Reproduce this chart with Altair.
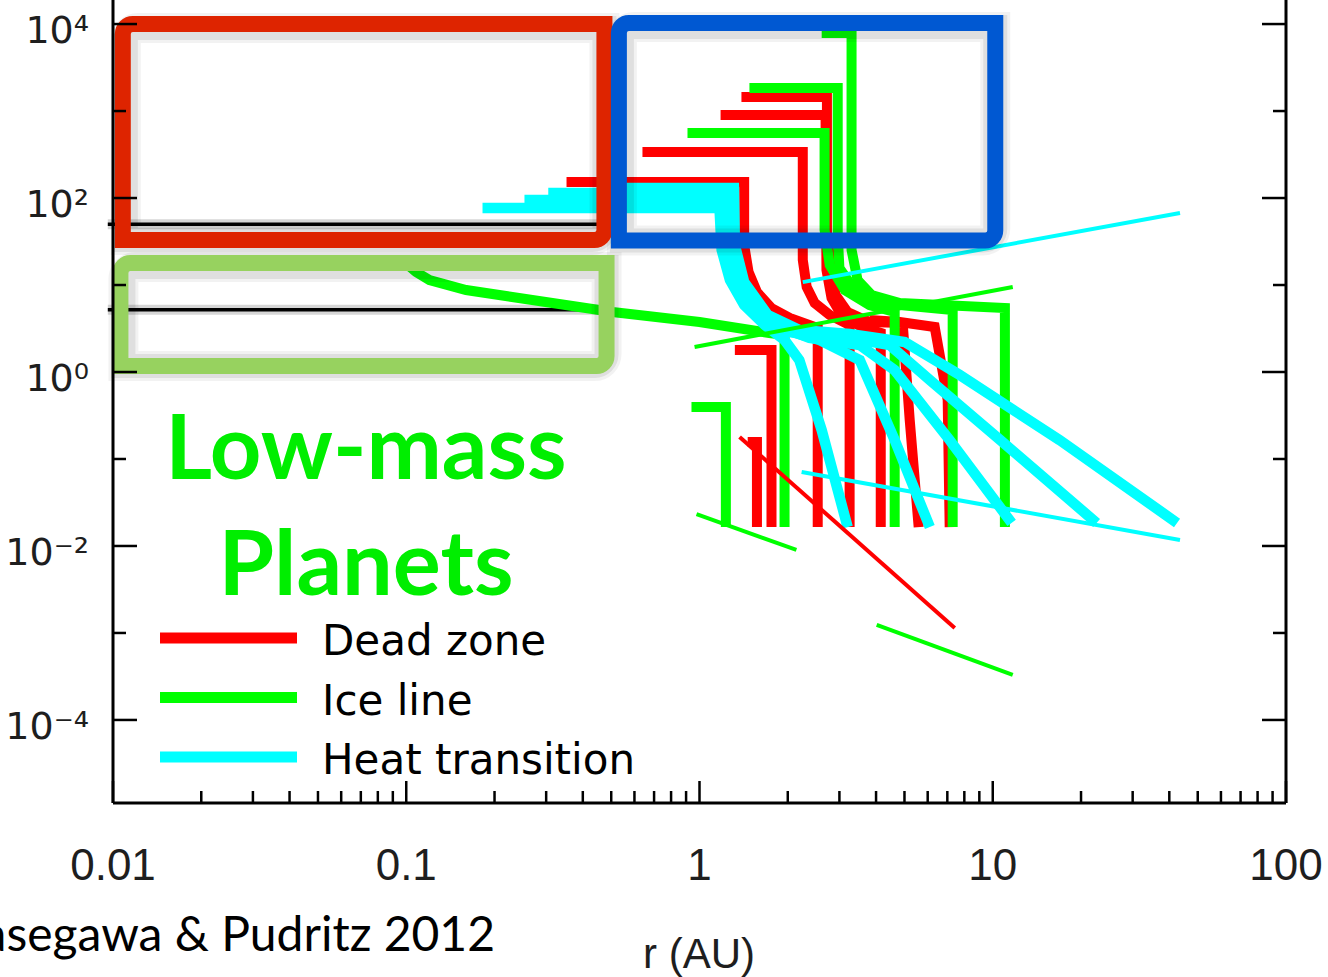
import altair as alt
import pandas as pd

# plot-area size in pixels (frame is drawn by hand below)
W, H = 1173, 803

# ---------------------------------------------------------------- axes ----
R_DOMAIN = [0.01, 100.0]          # orbital radius r [AU]
M_DOMAIN = [1.11e-5, 1.89e4]      # planet mass [M_earth]

x_tick_values = [0.01, 0.1, 1, 10, 100]
x_tick_labels = ["0.01", "0.1", "1", "10", "100"]
x_minor_values = [m * 10.0 ** k for k in range(-2, 2) for m in range(2, 10)]
y_major_values = [1e-4, 1e-2, 1.0, 1e2, 1e4]
y_major_labels = ["10⁻⁴", "10⁻²", "10⁰", "10²", "10⁴"]
y_minor_values = [1e-3, 1e-1, 10.0, 1e3]

# ------------------------------------------------- planet tracks (r, M) ----
dead_zone_tracks = [
    ([1.57, 1.57, 1.46], [0.0165, 0.157, 0.157]),
    ([1.76, 1.76, 1.32], [0.0165, 1.79, 1.79]),
    ([2.53, 2.53, 2.03, 1.76, 1.57, 1.47, 1.42, 1.42, 0.352],
     [0.0165, 3.21, 4.18, 5.44, 8.31, 14.1, 28.8, 153, 153]),
    ([3.25, 3.25, 2.78, 2.47, 2.32, 2.25, 2.25, 0.639],
     [0.0165, 3.47, 4.52, 6.21, 9.48, 19.4, 338, 338]),
    ([4.15, 4.15, 3.52, 3.05, 2.82, 2.71, 2.69, 1.18],
     [0.0165, 2.81, 3.38, 4.52, 7.09, 14.9, 900, 900]),
    ([5.59, 5.21, 4.93, 3.80, 3.20, 2.91, 2.80, 2.72, 2.72, 1.39],
     [0.0165, 0.281, 3.66, 3.76, 4.89, 7.68, 17.0, 40.0, 1450, 1450]),
    ([7.13, 7.02, 6.34, 4.82, 3.80], [0.0165, 0.477, 3.29, 3.76, 3.96]),
]

ice_line_tracks = [
    ([1.23, 1.23, 0.939], [0.0165, 0.396, 0.396]),
    ([1.95, 1.95, 1.73, 1.00, 0.505, 0.269, 0.160, 0.120, 0.108, 0.0985],
     [0.0165, 2.66, 2.81, 3.76, 4.89, 6.72, 8.76, 11.4, 14.1, 18.4]),
    ([4.63, 4.63, 3.80, 3.13, 2.78, 2.67, 2.67, 0.910],
     [0.0165, 4.89, 5.89, 8.76, 17.0, 42.9, 559, 559]),
    ([7.30, 7.30, 4.12, 3.38, 3.00, 2.96, 2.96, 1.48],
     [0.0165, 5.16, 6.21, 8.76, 15.7, 37.6, 1840, 1840]),
    ([11.0, 11.0, 4.82, 3.86, 3.46, 3.30, 3.30, 2.61],
     [0.0165, 5.44, 6.21, 7.68, 11.4, 25.3, 7880, 7880]),
]

heat_transition_tracks = [
    ([3.20, 2.61, 2.19, 1.95, 1.67, 1.42, 1.27, 1.19, 1.17, 0.182],
     [0.0165, 0.215, 1.37, 2.33, 3.47, 5.89, 11.4, 25.3, 76.7, 76.7]),
    ([6.10, 4.63, 3.52, 2.57, 1.95, 1.60, 1.35, 1.24, 1.21, 1.21, 0.253],
     [0.0165, 0.165, 1.37, 2.33, 3.04, 4.52, 8.76, 19.4, 49.0, 94.8, 94.8]),
    ([11.6, 7.13, 4.63, 3.52, 2.37, 1.85, 1.54, 1.32, 1.26, 1.26, 0.305],
     [0.0184, 0.165, 1.05, 2.04, 2.46, 3.38, 5.89, 14.1, 37.6, 114, 114]),
    ([22.6, 10.6, 6.10, 4.45, 3.00, 2.03, 1.63, 1.37, 1.29, 1.29, 0.456],
     [0.0184, 0.165, 0.809, 2.04, 2.59, 2.88, 4.89, 12.0, 32.9, 87.6, 87.6]),
    ([42.5, 16.9, 7.72, 5.01, 3.25, 2.19, 1.71, 1.42, 1.32, 1.31, 0.456],
     [0.0184, 0.165, 0.924, 2.21, 2.73, 3.04, 4.52, 10.8, 28.8, 130, 130]),
]

# trap trajectories (thin lines)
trap_families = ["dead", "ice", "ice", "ice", "heat", "heat"]
trap_r = [[1.37, 7.42], [0.962, 11.7], [0.977, 2.14], [4.02, 11.7], [2.25, 43.5], [2.23, 43.5]]
trap_m = [[0.179, 0.00114], [1.94, 9.48], [0.0233, 0.0090], [0.00124, 0.000329],
          [10.8, 67.3], [0.0709, 0.0117]]

# horizontal reference masses across the inner disc
ref_mass = [50.0, 5.2]
ref_r = [0.0096, 0.456]

# highlighted regions: r range, M range, colour
box_r_min = [0.0108, 0.531, 0.0106]
box_r_max = [0.474, 10.2, 0.482]
box_m_min = [32.9, 32.5, 1.17]
box_m_max = [10000, 10270, 17.9]
box_colors = ["#de2400", "#0058d2", "#97d25f"]

legend_labels = ["Dead zone", "Ice line", "Heat transition"]
family_colors = {"dead": "#ff0000", "ice": "#00ff00", "heat": "#00ffff"}
legend_colors = [family_colors["dead"], family_colors["ice"], family_colors["heat"]]

TICK_FONT = "Liberation Sans"

# ------------------------------------------------------------- helpers ----
xs = alt.Scale(type="log", domain=R_DOMAIN, nice=False)
ys = alt.Scale(type="log", domain=M_DOMAIN, nice=False)


def X(field="r"):
    return alt.X(f"{field}:Q", scale=xs, axis=None)


def Y(field="m"):
    return alt.Y(f"{field}:Q", scale=ys, axis=None)


def tracks_frame(tracks, family):
    rows = []
    for k, (rs, ms) in enumerate(tracks):
        for i, (r, m) in enumerate(zip(rs, ms)):
            rows.append({"track": f"{family}{k}", "i": i, "r": r, "m": m})
    return pd.DataFrame(rows)


def track_layer(tracks, family, width):
    return alt.Chart(tracks_frame(tracks, family)).mark_line(
        color=family_colors[family], strokeWidth=width,
        strokeJoin="miter", strokeCap="butt"
    ).encode(x=X(), y=Y(), detail="track:N", order="i:Q")


ONE = alt.Data(values=[{"k": 1}])


def pixel_rule(**enc):
    style = enc.pop("style", {})
    return alt.Chart(ONE).mark_rule(**style).encode(**enc)


def pixel_text(text, x, y, **style):
    return alt.Chart(alt.Data(values=[{"t": text}])).mark_text(**style).encode(
        text="t:N", x=alt.value(x), y=alt.value(y))


layers = []

# reference mass lines (with a soft shadow)
ref_df = pd.DataFrame({"r": [ref_r[0]] * 2, "r2": [ref_r[1]] * 2, "m": ref_mass})
layers.append(alt.Chart(ref_df).mark_rule(color="#000000", strokeWidth=10, opacity=0.16)
              .encode(x=X(), x2="r2:Q", y=Y()))
layers.append(alt.Chart(ref_df).mark_rule(color="#000000", strokeWidth=3.5)
              .encode(x=X(), x2="r2:Q", y=Y()))

# planet tracks
layers.append(track_layer(dead_zone_tracks, "dead", 10))
layers.append(track_layer(ice_line_tracks, "ice", 10))
layers.append(track_layer(heat_transition_tracks, "heat", 10.5))

thin_rows = []
for k, (fam, rs, ms) in enumerate(zip(trap_families, trap_r, trap_m)):
    for i, (r, m) in enumerate(zip(rs, ms)):
        thin_rows.append({"seg": k, "i": i, "r": r, "m": m, "c": family_colors[fam]})
layers.append(alt.Chart(pd.DataFrame(thin_rows)).mark_line(strokeWidth=4, strokeCap="butt")
              .encode(x=X(), y=Y(), detail="seg:N", order="i:Q",
                      color=alt.Color("c:N", scale=None)))

# highlighted regions with a soft drop shadow
box_df = pd.DataFrame({"r0": box_r_min, "r1": box_r_max, "m0": box_m_min,
                       "m1": box_m_max, "c": box_colors})
for sw, op in [(30, 0.05), (24, 0.08)]:
    layers.append(alt.Chart(box_df).mark_rect(
        fillOpacity=0, stroke="#000000", strokeOpacity=op, strokeWidth=sw,
        xOffset=3, yOffset=4, cornerRadiusTopLeft=12, cornerRadiusBottomRight=12
    ).encode(x=X("r0"), x2="r1:Q", y=Y("m1"), y2="m0:Q"))
layers.append(alt.Chart(box_df).mark_rect(
    fillOpacity=0, strokeWidth=16, cornerRadiusTopLeft=10, cornerRadiusBottomRight=10
).encode(x=X("r0"), x2="r1:Q", y=Y("m1"), y2="m0:Q",
         stroke=alt.Stroke("c:N", scale=None)))

# frame
axis_style = {"color": "#000000", "strokeWidth": 3}
layers.append(pixel_rule(x=alt.value(0), x2=alt.value(W), y=alt.value(H), style=axis_style))
layers.append(pixel_rule(x=alt.value(0), y=alt.value(0), y2=alt.value(H), style=axis_style))
layers.append(pixel_rule(x=alt.value(W), y=alt.value(0), y2=alt.value(H), style=axis_style))

# inward ticks
tick_style = {"color": "#000000", "strokeWidth": 2.5}
layers.append(alt.Chart(pd.DataFrame({"r": x_tick_values})).mark_rule(**tick_style)
              .encode(x=X(), y=alt.value(H), y2=alt.value(H - 22)))
layers.append(alt.Chart(pd.DataFrame({"r": x_minor_values})).mark_rule(**tick_style)
              .encode(x=X(), y=alt.value(H), y2=alt.value(H - 12)))
for x0, sgn in [(0, 1), (W, -1)]:
    layers.append(alt.Chart(pd.DataFrame({"m": y_major_values})).mark_rule(**tick_style)
                  .encode(y=Y(), x=alt.value(x0), x2=alt.value(x0 + sgn * 24)))
    layers.append(alt.Chart(pd.DataFrame({"m": y_minor_values})).mark_rule(**tick_style)
                  .encode(y=Y(), x=alt.value(x0), x2=alt.value(x0 + sgn * 13)))

# tick labels
layers.append(alt.Chart(pd.DataFrame({"r": x_tick_values, "label": x_tick_labels}))
              .mark_text(font=TICK_FONT, fontSize=44, color="#1e1e1e", baseline="alphabetic")
              .encode(x=X(), y=alt.value(880), text="label:N"))
layers.append(alt.Chart(pd.DataFrame({"m": y_major_values, "label": y_major_labels}))
              .mark_text(font="DejaVu Sans", fontSize=38, color="#1e1e1e", align="right",
                         baseline="alphabetic", dy=19)
              .encode(y=Y(), x=alt.value(-24), text="label:N"))

# axis title and citation
layers.append(pixel_text("r (AU)", 586, 968, font=TICK_FONT, fontSize=42, color="#1e1e1e",
                         align="center", baseline="alphabetic"))
layers.append(pixel_text("Hasegawa & Pudritz 2012", 382, 951, font="Lato", fontSize=48,
                         color="#000000", align="right", baseline="alphabetic"))

# region label
for line, yb in [("Low-mass", 479), ("Planets", 595)]:
    layers.append(pixel_text(line, 253, yb, font="Lato", fontWeight="bold", fontSize=90,
                             color="#00ee00", align="center", baseline="alphabetic"))

# legend
for i, (lab, col) in enumerate(zip(legend_labels, legend_colors)):
    yb = 655 + 59.5 * i
    layers.append(pixel_rule(x=alt.value(47), x2=alt.value(184), y=alt.value(yb - 17),
                             style={"color": col, "strokeWidth": 11}))
    layers.append(pixel_text(lab, 209, yb, font="DejaVu Sans", fontSize=42, color="#000000",
                             align="left", baseline="alphabetic"))

chart = alt.layer(*layers).properties(
    width=W, height=H,
    padding={"left": 113, "top": 0, "right": 42, "bottom": 174},
    autosize=alt.AutoSizeParams(type="none"),
    background="#ffffff",
).configure_view(stroke=None)

chart.save("out.html", embed_options={"renderer": "svg", "actions": False})
